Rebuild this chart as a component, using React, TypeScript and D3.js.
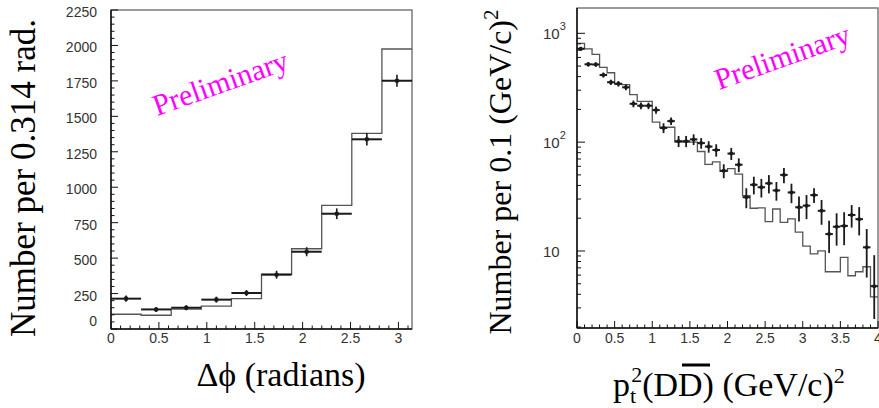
import React from "react";
import * as d3 from "d3";

// ---------- Left panel: delta-phi ----------
const phiBinCount = 10;
const phiMax = Math.PI;
const phiMC = [104, 97, 140, 162, 214, 386, 566, 872, 1380, 1975];
const phiData = [214, 138, 150, 207, 254, 383, 545, 813, 1338, 1751];
const phiErr = [22, 18, 18, 21, 21, 28, 32, 38, 44, 42];
const phiYTicks = [0, 250, 500, 750, 1000, 1250, 1500, 1750, 2000, 2250];
const phiXTicks = [0, 0.5, 1, 1.5, 2, 2.5, 3];

// ---------- Right panel: pt^2 ----------
const ptBinWidth = 0.1;
const ptMC = [809, 720, 640, 486, 434, 341, 337, 273, 237, 237, 153, 137, 137, 100, 100, 100, 82, 62.5, 66, 54, 57, 50.8, 32.3, 24.7, 24.9, 18.6, 24.3, 18.3, 19.7, 14.9, 11.1, 9.4, 10.0, 6.44, 6.44, 8.73, 5.92, 6.44, 7.16, 3.79];
const ptData = [720, 519, 517, 414, 355, 344, 319, 225, 216, 216, 197, 135, 156, 102, 102, 106, 98, 91, 84.6, 54.6, 78.5, 62, 31.2, 40.6, 38.5, 41.8, 36, 50, 34.5, 25.2, 26.1, 32.6, 23.4, 14.3, 16.7, 17.0, 21.4, 19.6, 10.8, 4.75];
const ptErr = [30, 25, 25, 22, 20, 20, 19, 16, 15, 15, 15, 14, 12, 12, 12, 12, 11, 11, 11, 8, 10, 9, 6.5, 7.5, 7.5, 8, 7, 8, 7, 6.5, 6.5, 5, 6, 4.7, 5.5, 5.7, 5, 5.7, 5.1, 4.4];
const ptYTickExp = [1, 2, 3];
const ptXTicks = [0, 0.5, 1, 1.5, 2, 2.5, 3, 3.5, 4];

const SANS = "'Liberation Sans', Arial, sans-serif";
const SERIF = "'Liberation Serif', 'Times New Roman', serif";

function stepPath(values: number[], x0: number, w: number, xs: any, ys: any) {
  let d = "";
  values.forEach((v, i) => {
    const xa = xs(x0 + i * w);
    const xb = xs(x0 + (i + 1) * w);
    const y = ys(v);
    d += (i === 0 ? `M${xa},${y}` : `L${xa},${y}`) + `L${xb},${y}`;
  });
  return d;
}

export default function App() {
  // left scales
  const Lx = d3.scaleLinear().domain([0, phiMax]).range([111, 412]);
  const Ly = d3.scaleLinear().domain([0, 2250]).range([329, 10]);
  const phiW = phiMax / phiBinCount;

  // right scales
  const Rx = d3.scaleLinear().domain([0, 4]).range([577, 878]);
  const Ry = d3.scaleLog().domain([1.96, 1708]).range([328, 8]);

  const lMinorX = d3.range(0, 32).map((i) => i / 10);
  const lMinorY = d3.range(0, 46).map((i) => i * 50);
  const rMinorX = d3.range(0, 41).map((i) => i / 10);
  const rMinorY: number[] = [];
  [1, 10, 100, 1000].forEach((dec) => {
    for (let k = 1; k <= 9; k++) {
      const v = dec * k;
      if (v >= 1.96 && v <= 1708) rMinorY.push(v);
    }
  });

  const dataColor = "#1a1a1a";
  const mcColor = "#555";

  return (
    <svg
      width={879}
      height={408}
      style={{ position: "absolute", left: 0, top: 0, background: "#fff" }}
    >
      <rect x={0} y={0} width={879} height={408} fill="#fff" />

      {/* ---------------- LEFT PANEL ---------------- */}
      <rect x={111} y={10} width={301} height={319} fill="none" stroke="#666" strokeWidth={1.3} />
      <path d={stepPath(phiMC, 0, phiW, Lx, Ly)} fill="none" stroke={mcColor} strokeWidth={1.3} />
      {phiData.map((v, i) => {
        const xa = Lx(i * phiW);
        const xb = Lx((i + 1) * phiW);
        const xc = (xa + xb) / 2;
        return (
          <g key={"ld" + i}>
            <line x1={xa} x2={xb} y1={Ly(v)} y2={Ly(v)} stroke={dataColor} strokeWidth={2} />
            <line x1={xc} x2={xc} y1={Ly(v - phiErr[i])} y2={Ly(v + phiErr[i])} stroke={dataColor} strokeWidth={1.6} />
            <circle cx={xc} cy={Ly(v)} r={2.3} fill={dataColor} />
          </g>
        );
      })}
      <line x1={111} x2={111} y1={10} y2={329} stroke="#111" strokeWidth={1.5} />
      <line x1={111} x2={412} y1={329} y2={329} stroke="#111" strokeWidth={1.5} />
      {lMinorX.map((t) => {
        const major = Math.abs(t * 2 - Math.round(t * 2)) < 1e-6;
        return <line key={"lxt" + t} x1={Lx(t)} x2={Lx(t)} y1={329} y2={329 - (major ? 7 : 3.5)} stroke="#111" strokeWidth={1} />;
      })}
      {lMinorY.map((t) => {
        const major = t % 250 === 0;
        return <line key={"lyt" + t} x1={111} x2={111 + (major ? 7 : 3.5)} y1={Ly(t)} y2={Ly(t)} stroke="#111" strokeWidth={1} />;
      })}
      {phiXTicks.map((t) => (
        <text key={"lxl" + t} x={Lx(t)} y={343} textAnchor="middle" fontFamily={SANS} fontSize={14} fill="#333">
          {String(t)}
        </text>
      ))}
      {phiYTicks.map((t) => (
        <text key={"lyl" + t} x={97} y={Ly(t) + (t === 0 ? -3 : 7)} textAnchor="end" fontFamily={SANS} fontSize={14} fill="#333">
          {String(t)}
        </text>
      ))}
      <text transform="translate(35,178) rotate(-90)" textAnchor="middle" fontFamily={SERIF} fontSize={35} fill="#000">
        Number per 0.314 rad.
      </text>
      <text x={281} y={386} textAnchor="middle" fontFamily={SERIF} fontSize={34} fill="#000">
        Δϕ (radians)
      </text>
      <text transform="translate(157,116) rotate(-19.5)" fontFamily={SERIF} fontSize={30} fill="#ff00ff">
        Preliminary
      </text>

      {/* ---------------- RIGHT PANEL ---------------- */}
      <rect x={577} y={8} width={301} height={320} fill="none" stroke="#666" strokeWidth={1.3} />
      <path d={stepPath(ptMC, 0, ptBinWidth, Rx, Ry)} fill="none" stroke={mcColor} strokeWidth={1.3} />
      {ptData.map((v, i) => {
        const xa = Rx(i * ptBinWidth);
        const xb = Rx((i + 1) * ptBinWidth);
        const xc = (xa + xb) / 2;
        const lo = Math.max(v - ptErr[i], 1.96);
        const yLo = v - ptErr[i] > 1.96 ? Ry(lo) : 319;
        return (
          <g key={"rd" + i}>
            <line x1={xa} x2={xb} y1={Ry(v)} y2={Ry(v)} stroke={dataColor} strokeWidth={2} />
            <line x1={xc} x2={xc} y1={yLo} y2={Ry(v + ptErr[i])} stroke={dataColor} strokeWidth={1.8} />
            <circle cx={xc} cy={Ry(v)} r={2} fill={dataColor} />
          </g>
        );
      })}
      <line x1={577} x2={577} y1={8} y2={328} stroke="#111" strokeWidth={1.5} />
      <line x1={577} x2={878} y1={328} y2={328} stroke="#111" strokeWidth={1.5} />
      {rMinorX.map((t) => {
        const major = Math.abs(t * 2 - Math.round(t * 2)) < 1e-6;
        return <line key={"rxt" + t} x1={Rx(t)} x2={Rx(t)} y1={328} y2={328 - (major ? 7 : 3.5)} stroke="#111" strokeWidth={1} />;
      })}
      {rMinorY.map((t) => {
        const major = Math.abs(Math.log10(t) - Math.round(Math.log10(t))) < 1e-9;
        return <line key={"ryt" + t} x1={577} x2={577 + (major ? 8 : 4)} y1={Ry(t)} y2={Ry(t)} stroke="#111" strokeWidth={1} />;
      })}
      {ptXTicks.map((t) => (
        <text key={"rxl" + t} x={Rx(t)} y={343} textAnchor="middle" fontFamily={SANS} fontSize={14} fill="#333">
          {String(t)}
        </text>
      ))}
      {ptYTickExp.map((e) => (
        <text key={"ryl" + e} x={543} y={Ry(Math.pow(10, e)) + 6} fontFamily={SANS} fontSize={15} fill="#333">
          10
          {e > 1 ? (
            <tspan fontSize={11} dy={-9}>
              {String(e)}
            </tspan>
          ) : null}
        </text>
      ))}
      <text transform="translate(511,172) rotate(-90)" textAnchor="middle" fontFamily={SERIF} fontSize={32} fill="#000">
        Number per 0.1 (GeV/c)
        <tspan fontSize={21} dy={-13}>2</tspan>
      </text>
      <text x={613} y={396} fontFamily={SERIF} fontSize={34} fill="#000">
        p
        <tspan fontSize={22} dy={7}>t</tspan>
        <tspan fontSize={22} dx={-5} dy={-21}>2</tspan>
        <tspan fontSize={34} dy={14}>(DD) (GeV/c)</tspan>
        <tspan fontSize={22} dy={-13}>2</tspan>
      </text>
      <line x1={682} x2={710} y1={365} y2={365} stroke="#000" strokeWidth={3} />
      <text transform="translate(719,90) rotate(-19.5)" fontFamily={SERIF} fontSize={30} fill="#ff00ff">
        Preliminary
      </text>
    </svg>
  );
}
